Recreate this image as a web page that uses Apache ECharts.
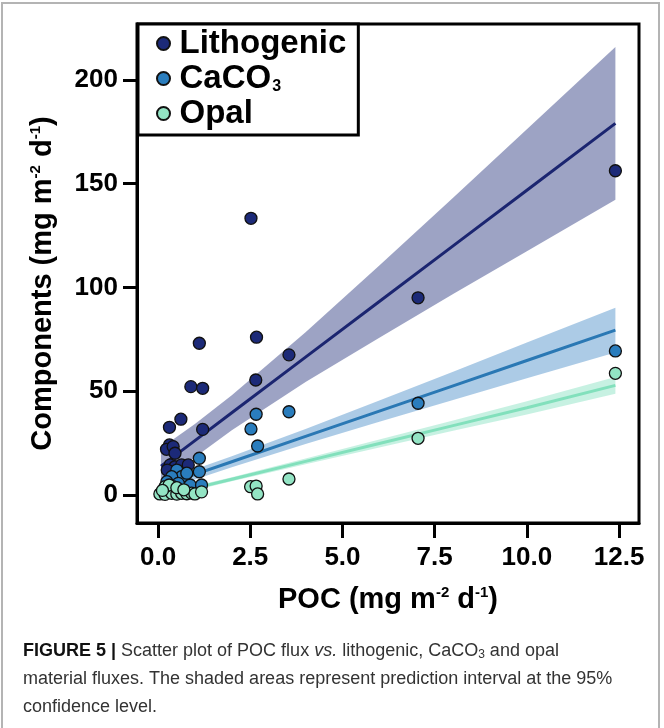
<!DOCTYPE html>
<html><head><meta charset="utf-8">
<script src="https://cdn.jsdelivr.net/npm/echarts@6/dist/echarts.min.js"></script>
<style>html,body{margin:0;padding:0;background:#fff}#c{width:664px;height:728px}</style>
</head><body><div id="c"></div>
<script>
// ---- data ----
const xTicks = [0, 2.5, 5, 7.5, 10, 12.5];
const yTicks = [0, 50, 100, 150, 200];

const lithoPOC = [12.4, 7.05, 2.52, 1.12, 2.67, 0.89, 1.21, 2.65, 3.55, 0.62, 0.31, 1.21, 0.31, 0.23, 0.41, 0.46, 0.33, 0.46, 0.64, 0.82, 0.25, 0.55, 0.7, 0.15, 0.1];
const lithoVal = [156.2, 95, 133.3, 73.1, 76.0, 52.2, 51.4, 55.4, 67.5, 36.5, 32.6, 31.6, 24.1, 22.0, 23.3, 20.1, 14.5, 13.6, 14.5, 14.5, 12.0, 11.0, 8.0, 2.0, 1.0];

const caco3POC = [12.4, 7.05, 3.55, 2.66, 2.52, 2.70, 1.12, 1.12, 0.87, 1.18, 0.51, 0.64, 0.37, 0.55, 0.24, 0.78, 0.1, 0.41];
const caco3Val = [69.4, 44.2, 40.1, 38.9, 31.8, 23.6, 17.7, 11.2, 4.8, 4.8, 12.0, 8.8, 8.8, 5.6, 6.4, 10.5, 0.8, 4.0];

const opalPOC = [12.4, 7.05, 3.55, 2.51, 2.66, 2.70, 0.05, 0.19, 0.37, 0.51, 0.64, 0.78, 0.91, 1.0, 1.18, 0.19, 0.3, 0.51, 0.7, 0.12];
const opalVal = [58.6, 27.3, 7.7, 4.0, 4.3, 0.5, 0.5, 0.3, 0.8, 0.4, 0.8, 0.6, 0.9, 0.5, 1.5, 4.0, 4.8, 3.5, 2.5, 2.2];

// fitted lines and 95% bands, read at these POC values
const fitX      = [0.08, 1, 2, 4, 6, 8, 10, 12.4];
const lithoFit  = [13.9, 26.2, 39.6, 66.4, 93.2, 120.0, 146.8, 179.0];
const lithoLow  = [5.0, 18.2, 31.2, 54.4, 75.8, 96.8, 117.4, 142.2];
const lithoUp   = [22.6, 34.2, 48.0, 78.4, 110.6, 143.2, 176.2, 215.8];
const caco3Fit  = [4.3, 9.9, 16.0, 28.2, 40.4, 52.6, 64.8, 79.4];
const caco3Low  = [1.6, 7.4, 13.4, 24.6, 35.3, 45.8, 56.2, 68.6];
const caco3Up   = [7.0, 12.4, 18.6, 31.8, 45.5, 59.4, 73.4, 90.2];
const opalFit   = [-0.7, 3.3, 7.6, 16.2, 24.8, 33.4, 42.0, 52.8];
const opalLow   = [-1.8, 2.3, 6.6, 14.8, 22.9, 30.9, 38.8, 48.8];
const opalUp    = [0.4, 4.3, 8.6, 17.6, 26.7, 35.9, 45.2, 56.8];

// ---- chart ----
const FONT = '"Liberation Sans", Arial, sans-serif';
const colors = { litho: '#1c2a78', caco3: '#2a7dbd', opal: '#93e4c4' };
const lineColors = { litho: '#1b2570', caco3: '#2a78b4', opal: '#82e0bc' };
const bandColors = { litho: 'rgba(60,72,138,0.5)', caco3: 'rgba(70,140,200,0.45)', opal: 'rgba(130,225,190,0.45)' };

function zip(a, b) { return a.map((v, i) => [v, b[i]]); }
function band(name, low, up, fill) {
  return {
    type: 'custom', name: name, silent: true, z: 1,
    data: fitX.map((x, i) => [x, low[i], up[i]]),
    encode: { x: 0, y: [1, 2] },
    renderItem: function (params, api) {
      if (params.dataIndex !== 0) return null;
      const pts = [];
      for (let i = 0; i < fitX.length; i++) pts.push(api.coord([fitX[i], up[i]]));
      for (let i = fitX.length - 1; i >= 0; i--) pts.push(api.coord([fitX[i], low[i]]));
      return { type: 'polygon', shape: { points: pts }, style: { fill: fill, stroke: null } };
    }
  };
}
function fitLine(name, vals, color) {
  return { type: 'line', name: name, data: zip(fitX, vals), symbol: 'none', silent: true, z: 2,
    lineStyle: { color: color, width: 3 } };
}
function scat(name, xs, ys, color) {
  return { type: 'scatter', name: name, data: zip(xs, ys), symbol: 'circle', symbolSize: 12, z: 3,
    itemStyle: { color: color, borderColor: '#111', borderWidth: 1.3, opacity: 1 } };
}

const CAP = '"Liberation Sans", Arial, sans-serif';
const tickStyle = { color: '#000', width: 3 };
const chart = echarts.init(document.getElementById('c'), null, { renderer: 'canvas' });
const option = {
  backgroundColor: '#fff',
  animation: false,
  grid: { left: 137, right: 25, top: 24, bottom: 205, show: true, borderColor: '#000', borderWidth: 3, backgroundColor: 'transparent' },
  xAxis: {
    type: 'value', min: -0.57, max: 13.04, position: 'bottom',
    name: 'POC (mg m{sup|-2} d{sup|-1})', nameLocation: 'middle', nameGap: 62,
    nameTextStyle: { fontFamily: FONT, fontSize: 29, fontWeight: 'bold', color: '#000',
      rich: { sup: { fontFamily: FONT, fontSize: 15, fontWeight: 'bold', color: '#000', padding: [0, 0, 14, 0] } } },
    axisLine: { show: true, onZero: false, lineStyle: { color: '#000', width: 3 } },
    axisTick: { show: true, inside: false, length: 15, lineStyle: tickStyle, customValues: xTicks },
    axisLabel: { customValues: xTicks, margin: 22, fontFamily: FONT, fontSize: 26, fontWeight: 'bold', color: '#000',
      formatter: v => Number(v).toFixed(1) },
    splitLine: { show: false }
  },
  yAxis: {
    type: 'value', min: -13.5, max: 226.9, position: 'left',
    name: 'Components (mg m{sup|-2} d{sup|-1})', nameLocation: 'middle', nameGap: 80, nameRotate: 90,
    nameTextStyle: { fontFamily: FONT, fontSize: 29, fontWeight: 'bold', color: '#000', padding: [0, 20, 0, 0],
      rich: { sup: { fontFamily: FONT, fontSize: 15, fontWeight: 'bold', color: '#000', padding: [0, 0, 14, 0] } } },
    axisLine: { show: true, onZero: false, lineStyle: { color: '#000', width: 3 } },
    axisTick: { show: true, inside: false, length: 14, lineStyle: tickStyle, customValues: yTicks },
    axisLabel: { customValues: yTicks, margin: 19, fontFamily: FONT, fontSize: 26, fontWeight: 'bold', color: '#000' },
    splitLine: { show: false }
  },
  legend: {
    data: ['Lithogenic', 'CaCO3', 'Opal'],
    orient: 'vertical', left: 138, top: 24,
    padding: [3, 12, 5, 18], itemGap: 2, itemWidth: 22, itemHeight: 13, icon: 'circle',
    borderColor: '#000', borderWidth: 3, backgroundColor: '#fff',
    textStyle: { fontFamily: FONT, fontSize: 33, fontWeight: 'bold', color: '#000',
      rich: {
        a: { fontFamily: FONT, fontSize: 33, fontWeight: 'bold', color: '#000' },
        s: { fontFamily: FONT, fontSize: 16, fontWeight: 'bold', color: '#000', padding: [16, 0, 0, 1] }
      } },
    formatter: n => n === 'CaCO3' ? '{a|CaCO}{s|3}' : '{a|' + n + '}',
    z: 10
  },
  series: [
    band('Lithogenic band', lithoLow, lithoUp, bandColors.litho),
    band('CaCO3 band', caco3Low, caco3Up, bandColors.caco3),
    band('Opal band', opalLow, opalUp, bandColors.opal),
    fitLine('Lithogenic fit', lithoFit, lineColors.litho),
    fitLine('CaCO3 fit', caco3Fit, lineColors.caco3),
    fitLine('Opal fit', opalFit, lineColors.opal),
    scat('Lithogenic', lithoPOC, lithoVal, colors.litho),
    scat('CaCO3', caco3POC, caco3Val, colors.caco3),
    scat('Opal', opalPOC, opalVal, colors.opal)
  ],
  graphic: [
    { type: 'rect', z: -10, silent: true, shape: { x: 2, y: 3, width: 657, height: 740 },
      style: { fill: null, stroke: '#b4b4b4', lineWidth: 2 } },
    { type: 'text', left: 23, top: 642, silent: true, style: {
      text: '{b|FIGURE 5 | }{n|Scatter plot of POC flux }{i|vs.}{n| lithogenic, CaCO}{s|3}{n| and opal}',
      rich: {
        b: { fontFamily: CAP, fontSize: 18, fontWeight: 'bold', fill: '#111' },
        n: { fontFamily: CAP, fontSize: 18, fill: '#333' },
        i: { fontFamily: CAP, fontSize: 18, fontStyle: 'italic', fill: '#333' },
        s: { fontFamily: CAP, fontSize: 12, fill: '#333', padding: [8, 0, 0, 0] }
      } } },
    { type: 'text', left: 23, top: 670, silent: true, style: {
      text: 'material fluxes. The shaded areas represent prediction interval at the 95%',
      font: '18px ' + CAP, fill: '#333' } },
    { type: 'text', left: 23, top: 698, silent: true, style: {
      text: 'confidence level.',
      font: '18px ' + CAP, fill: '#333' } }
  ]
};
chart.setOption(option);
</script></body></html>
